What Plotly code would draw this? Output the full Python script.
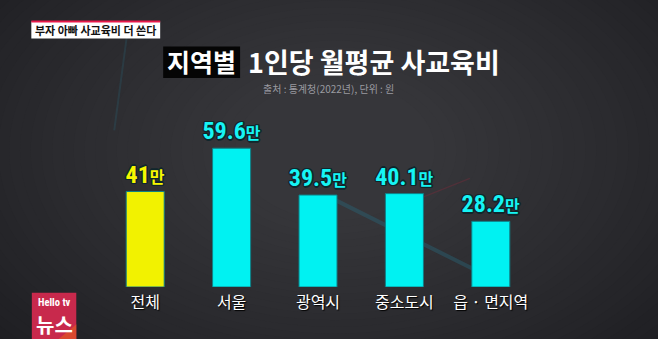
import plotly.graph_objects as go

# ---- data ----
categories = ["전체", "서울", "광역시", "중소도시", "읍 · 면지역"]
values = [41, 59.6, 39.5, 40.1, 28.2]
value_labels = ["41", "59.6", "39.5", "40.1", "28.2"]
unit = "만"
title_boxed = "지역별"
title_rest = "1인당 월평균 사교육비"
source_text = "출처 : 통계청(2022년), 단위 : 원"
tag_text = "부자 아빠 사교육비 더 쓴다"

W, H = 658, 339
L, R, T, B = 101.75, 123.75, 123.6, 52.3
pw, ph = W - L - R, H - T - B
YMAX = 70

def fx(px):
    return (px - L) / pw

def fy(py):
    return (H - B - py) / ph

KR = "Noto Sans CJK KR"
NUM = "Liberation Sans Narrow, Roboto Condensed, Roboto, " + KR
bar_colors = ["#f2f200", "#00f2f2", "#00f2f2", "#00f2f2", "#00f2f2"]
text_colors = ["#f6f600", "#16f4f4", "#16f4f4", "#16f4f4", "#16f4f4"]
outline = "#10262c"
shadow = ", ".join(f"{a}px {b}px 0 {outline}" for a, b in [(1,1),(-1,-1),(1,-1),(-1,1),(0,1.5),(1.5,0),(-1.5,0),(0,-1.5)])

texts = [f"{v}<span style='font-size:16px'>{unit}</span>" for v in value_labels]

fig = go.Figure(go.Bar(
    x=categories, y=values,
    marker=dict(color=bar_colors, line=dict(color="#0f7f86", width=1)),
    text=texts, textposition="outside", cliponaxis=False, constraintext="none",
    textfont=dict(family=NUM, size=24, color=text_colors, weight="bold", shadow=shadow),
    hoverinfo="skip",
))

shapes = []
# background vignette
steps = 40
for i in range(steps):
    t = i / (steps - 1)
    rx = 520 - 420 * t
    ry = 330 - 260 * t
    cx, cy = 335, 150
    c = round(0x17 + (0x36 - 0x17) * (t ** 0.8))
    col = f"rgb({c},{c},{c + 4})"
    shapes.append(dict(type="circle", xref="paper", yref="paper", layer="below",
                       x0=fx(cx - rx), x1=fx(cx + rx), y0=fy(cy + ry), y1=fy(cy - ry),
                       fillcolor=col, line=dict(width=0)))
# faint background streaks
shapes.append(dict(type="line", xref="paper", yref="paper", layer="below",
                   x0=fx(336), y0=fy(200), x1=fx(480), y1=fy(272),
                   line=dict(color="rgba(40,105,125,0.40)", width=4)))
shapes.append(dict(type="line", xref="paper", yref="paper", layer="below",
                   x0=fx(127), y0=fy(33), x1=fx(114), y1=fy(130),
                   line=dict(color="rgba(40,105,125,0.25)", width=2)))
shapes.append(dict(type="line", xref="paper", yref="paper", layer="below",
                   x0=fx(420), y0=fy(198), x1=fx(470), y1=fy(178),
                   line=dict(color="rgba(150,40,60,0.30)", width=1.2)))
# title box
shapes.append(dict(type="rect", xref="paper", yref="paper",
                   x0=fx(163), x1=fx(240), y0=fy(77.5), y1=fy(46),
                   fillcolor="#050505", line=dict(width=0)))
# tag box
shapes.append(dict(type="rect", xref="paper", yref="paper",
                   x0=fx(31), x1=fx(160), y0=fy(38), y1=fy(21),
                   fillcolor="#ffffff", line=dict(width=0)))
shapes.append(dict(type="rect", xref="paper", yref="paper",
                   x0=fx(31), x1=fx(160), y0=fy(22), y1=fy(20),
                   fillcolor="#e8194a", line=dict(width=0)))
# logo
shapes.append(dict(type="rect", xref="paper", yref="paper",
                   x0=fx(31.5), x1=fx(76), y0=fy(339), y1=fy(292.5),
                   fillcolor="#c8294c", line=dict(width=0)))
shapes.append(dict(type="path", xref="paper", yref="paper",
                   path=f"M {fx(58)} {fy(339)} L {fx(76)} {fy(324)} L {fx(76)} {fy(339)} Z",
                   fillcolor="#d9492f", line=dict(width=0)))

annotations = [
    dict(text=title_boxed, x=fx(201.5), y=fy(61), xref="paper", yref="paper", showarrow=False,
         font=dict(family=KR, size=25, color="white", weight="bold"), xanchor="center", yanchor="middle"),
    dict(text=title_rest, x=fx(246), y=fy(61), xref="paper", yref="paper", showarrow=False,
         font=dict(family=KR, size=27, color="white", weight="bold"), xanchor="left", yanchor="middle"),
    dict(text=source_text, x=fx(329), y=fy(88.5), xref="paper", yref="paper", showarrow=False,
         font=dict(family=KR, size=10, color="#9a9aa0"), xanchor="center", yanchor="middle"),
    dict(text=tag_text, x=fx(95.5), y=fy(30), xref="paper", yref="paper", showarrow=False,
         font=dict(family=KR, size=11, color="#111111", weight="bold"), xanchor="center", yanchor="middle"),
    dict(text="Hello tv", x=fx(54), y=fy(302), xref="paper", yref="paper", showarrow=False,
         font=dict(family=NUM, size=10.5, color="white", weight="bold"), xanchor="center", yanchor="middle"),
    dict(text="뉴스", x=fx(54), y=fy(324), xref="paper", yref="paper", showarrow=False,
         font=dict(family=KR, size=20, color="white", weight="bold"), xanchor="center", yanchor="middle"),
]

fig.update_layout(
    width=W, height=H,
    margin=dict(l=L, r=R, t=T, b=B, pad=0),
    paper_bgcolor="#151517", plot_bgcolor="rgba(0,0,0,0)",
    bargap=0.56, showlegend=False,
    shapes=shapes, annotations=annotations,
    xaxis=dict(showgrid=False, showline=False, zeroline=False, ticks="",
               tickfont=dict(family=KR, size=16, color="white",
                             shadow="1px 1px 1px #000"),
               ticklabelstandoff=4),
    yaxis=dict(range=[0, YMAX], visible=False, showgrid=False, zeroline=False),
)

fig.write_html("out.html")
